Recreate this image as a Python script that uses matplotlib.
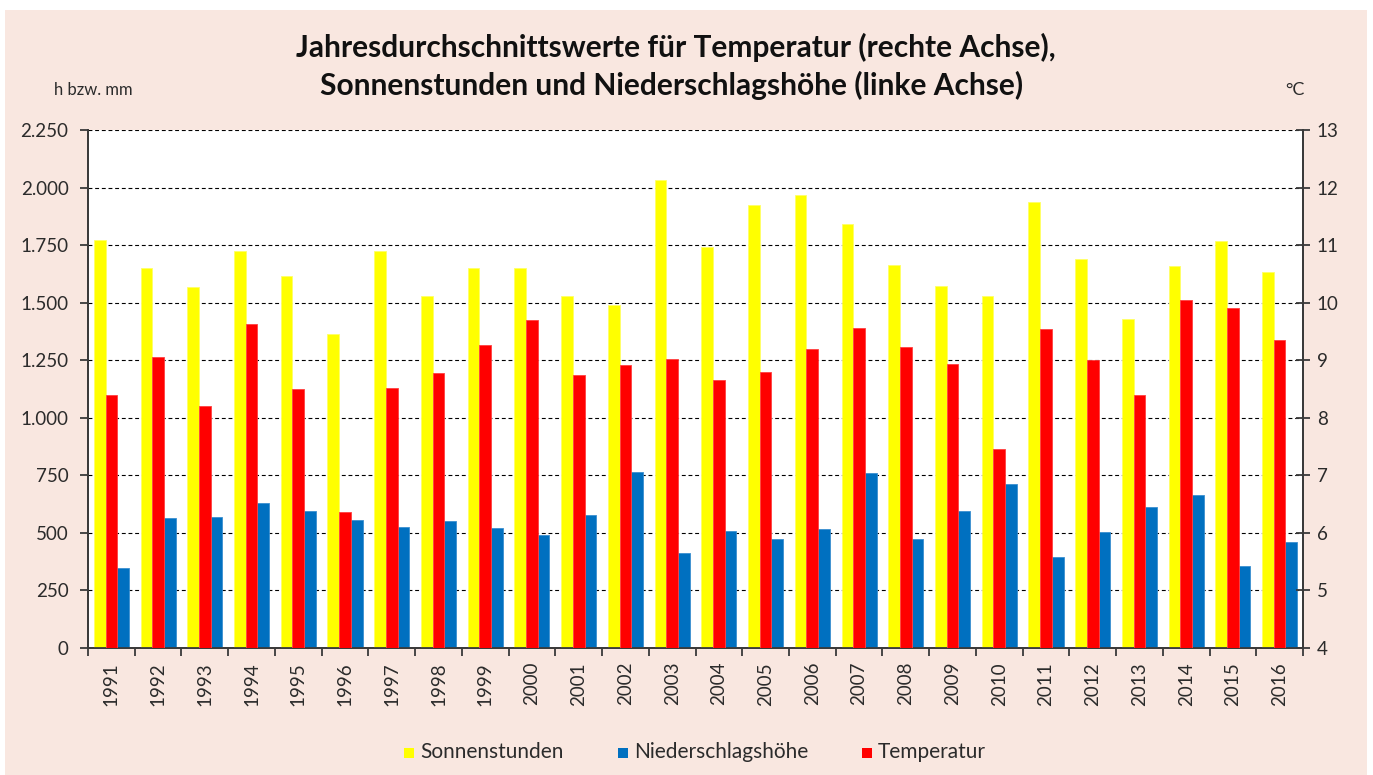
import matplotlib
matplotlib.use("Agg")
import matplotlib.pyplot as plt
from matplotlib.patches import Rectangle
from matplotlib.ticker import FuncFormatter
import numpy as np

years = [str(y) for y in range(1991, 2017)]
sonnenstunden = [1772, 1651, 1568, 1725, 1616, 1364, 1725, 1529, 1651, 1651,
                 1529, 1490, 2033, 1742, 1924, 1968, 1842, 1664, 1573, 1529,
                 1937, 1690, 1429, 1660, 1770, 1633]
temperatur = [8.40, 9.06, 8.20, 9.63, 8.50, 6.36, 8.52, 8.78, 9.26, 9.70,
              8.74, 8.92, 9.02, 8.66, 8.80, 9.19, 9.56, 9.23, 8.93, 7.46,
              9.54, 9.00, 8.40, 10.05, 9.91, 9.35]
niederschlag = [348, 565, 568, 630, 595, 556, 526, 552, 521, 491,
                578, 765, 413, 508, 474, 517, 760, 474, 595, 712,
                395, 504, 612, 665, 356, 460]

title_lines = ["Jahresdurchschnittswerte für Temperatur (rechte Achse),",
               "Sonnenstunden und Niederschlagshöhe (linke Achse)"]
left_unit = "h bzw. mm"
right_unit = "°C"
legend_labels = ["Sonnenstunden", "Niederschlagshöhe", "Temperatur"]

C_YEL = "#FFFF00"
C_RED = "#FF0000"
C_BLU = "#0070C0"
BG = "#F9E7E0"
TXT = "#2b2b2b"

plt.rcParams['font.family'] = ['Lato', 'DejaVu Sans']

W, H = 1373, 775
fig = plt.figure(figsize=(W / 100, H / 100), dpi=100)
fig.patch.set_facecolor("white")
fig.add_artist(Rectangle((5 / W, 0), (1367 - 5) / W, (H - 10) / H,
                         transform=fig.transFigure, facecolor=BG,
                         edgecolor="none", zorder=-10))

ax = fig.add_axes([88 / W, 1 - 648 / H, (1303 - 88) / W, (648 - 130) / H])
ax2 = ax.twinx()

x = np.arange(len(years))
bw = 0.25
ax.bar(x - bw, sonnenstunden, bw, color=C_YEL, edgecolor="#FFFF66", linewidth=0.6, zorder=3)
ax.bar(x + bw, niederschlag, bw, color=C_BLU, edgecolor="#3a8fd0", linewidth=0.6, zorder=3)
temp_arr = np.array(temperatur)
ax2.bar(x, temp_arr - 4, bw, bottom=4, color=C_RED, edgecolor="#ff4040", linewidth=0.6, zorder=3)

ax.set_xlim(-0.5, len(years) - 0.5)
ax.set_ylim(0, 2250)
ax2.set_ylim(4, 13)
ax.set_yticks(np.arange(0, 2251, 250))
ax2.set_yticks(np.arange(4, 14, 1))
ax.yaxis.set_major_formatter(FuncFormatter(lambda v, p: f"{int(v):,}".replace(",", ".")))

ax.set_facecolor("white")
ax.grid(axis="y", color="black", linestyle=(0, (3.5, 2.5)), linewidth=0.8, zorder=0)
ax.set_axisbelow(True)

for a in (ax, ax2):
    a.spines["top"].set_visible(False)
    for s in ("left", "right", "bottom"):
        a.spines[s].set_color("#3a3a3a")
        a.spines[s].set_linewidth(1.3)

ax.set_xticks(x)
ax.set_xticklabels(years, rotation=90, fontsize=13.5, color=TXT)
ax.tick_params(axis="x", which="major", length=0, pad=10)
ax.set_xticks(np.arange(-0.5, len(years), 1), minor=True)
ax.tick_params(axis="x", which="minor", length=6, width=1.3, color="#3a3a3a", direction="out")

ax.tick_params(axis="y", length=6, width=1.3, color="#3a3a3a", direction="out",
               labelsize=13.5, labelcolor=TXT, pad=8)
ax2.tick_params(axis="y", length=10, width=1.3, color="#3a3a3a", direction="inout",
                labelsize=13.5, labelcolor=TXT, pad=5)

fig.text(676 / W, 1 - 47 / H, title_lines[0], ha="center", va="center",
         fontsize=21.5, fontweight="bold", color="#111111")
fig.text(672 / W, 1 - 85 / H, title_lines[1], ha="center", va="center",
         fontsize=21.5, fontweight="bold", color="#111111")
fig.text(54 / W, 1 - 90 / H, left_unit, ha="left", va="center", fontsize=12, color=TXT)
fig.text(1285 / W, 1 - 90 / H, right_unit, ha="left", va="center", fontsize=13, color=TXT)

leg_sq = [(404, C_YEL), (618, C_BLU), (862, C_RED)]
for (sx, col), lab in zip(leg_sq, legend_labels):
    fig.add_artist(Rectangle((sx / W, 1 - 758 / H), 10 / W, 10 / H,
                             transform=fig.transFigure, facecolor=col, edgecolor="none"))
    fig.text((sx + 16) / W, 1 - 752 / H, lab, ha="left", va="center",
             fontsize=15, color=TXT)

fig.savefig("out.png", dpi=100, facecolor=fig.get_facecolor())
